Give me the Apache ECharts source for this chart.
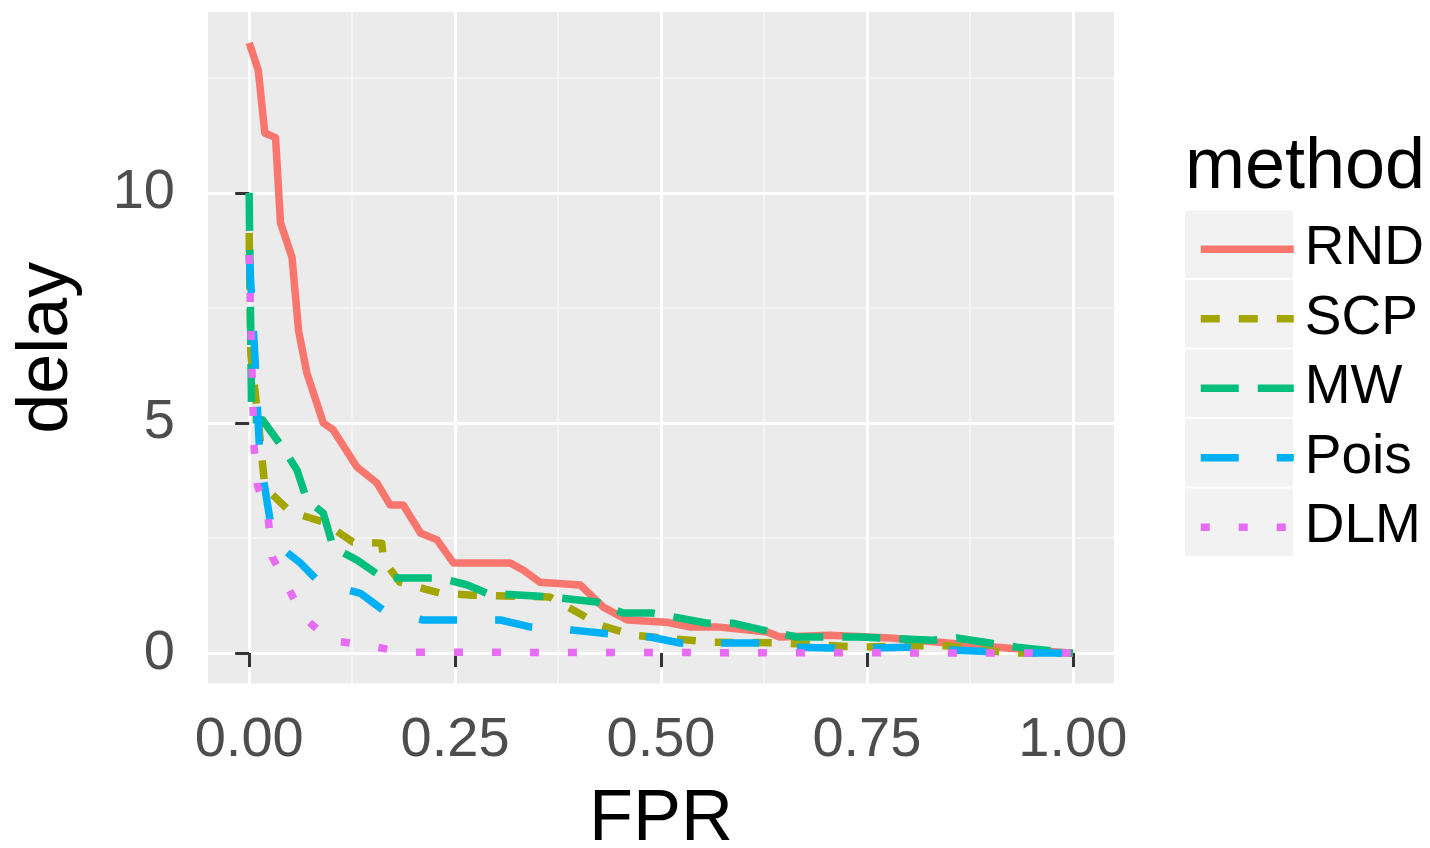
<!DOCTYPE html>
<html>
<head>
<meta charset="utf-8">
<script src="https://cdn.jsdelivr.net/npm/echarts@6/dist/echarts.min.js"></script>
<style>html,body{margin:0;padding:0;background:#fff}#c{width:1430px;height:848px}</style>
</head>
<body>
<div id="c"></div>
<script>
// ---- data ----
const methods = ['RND', 'SCP', 'MW', 'Pois', 'DLM'];
const xTicks = [0, 0.25, 0.5, 0.75, 1];
const xMinor = [0.125, 0.375, 0.625, 0.875];
const yTicks = [0, 5, 10];
const yMinor = [2.5, 7.5, 12.5];

const rndX = [0, 0.011, 0.019, 0.032, 0.038, 0.052, 0.06, 0.07, 0.09, 0.102, 0.131, 0.155, 0.171, 0.187, 0.208, 0.228, 0.248, 0.317, 0.333, 0.353, 0.402, 0.43, 0.459, 0.507, 0.535, 0.568, 0.629, 0.644, 0.705, 0.778, 0.908, 1.0];
const rndY = [13.26, 12.67, 11.3, 11.2, 9.35, 8.6, 7.0, 6.09, 5.0, 4.85, 4.04, 3.7, 3.22, 3.22, 2.61, 2.46, 1.96, 1.96, 1.8, 1.54, 1.48, 1.0, 0.72, 0.67, 0.57, 0.57, 0.46, 0.35, 0.39, 0.33, 0.13, 0];

const scpX = [0, 0.002, 0.011, 0.019, 0.05, 0.09, 0.126, 0.161, 0.163, 0.183, 0.232, 0.272, 0.365, 0.422, 0.426, 0.466, 0.559, 0.648, 0.738, 0.839, 0.927, 1.0];
const scpY = [9.13, 6.5, 5.07, 3.6, 3.07, 2.85, 2.41, 2.39, 2.02, 1.54, 1.3, 1.26, 1.22, 0.65, 0.61, 0.39, 0.24, 0.22, 0.13, 0.17, 0.0, 0];

const mwX = [0, 0.003, 0.016, 0.041, 0.058, 0.07, 0.09, 0.102, 0.131, 0.161, 0.183, 0.232, 0.265, 0.289, 0.365, 0.422, 0.454, 0.49, 0.556, 0.587, 0.624, 0.665, 0.697, 0.742, 0.83, 0.859, 0.899, 0.932, 1.0];
const mwY = [10.0, 5.07, 5.07, 4.46, 3.98, 3.33, 3.04, 2.3, 2.02, 1.65, 1.63, 1.63, 1.48, 1.3, 1.22, 1.11, 0.87, 0.87, 0.65, 0.65, 0.5, 0.35, 0.35, 0.35, 0.28, 0.33, 0.22, 0.13, 0];

const poisX = [0, 0.007, 0.013, 0.022, 0.028, 0.045, 0.062, 0.086, 0.135, 0.163, 0.211, 0.305, 0.341, 0.393, 0.43, 0.487, 0.523, 0.617, 0.665, 0.705, 0.757, 0.799, 0.851, 0.939, 1.0];
const poisY = [8.65, 6.43, 4.26, 3.26, 2.61, 2.2, 1.96, 1.52, 1.3, 0.93, 0.72, 0.72, 0.57, 0.5, 0.43, 0.35, 0.22, 0.22, 0.13, 0.11, 0.11, 0.13, 0.07, 0, 0];

const dlmX = [0, 0.003, 0.006, 0.01, 0.023, 0.028, 0.047, 0.066, 0.098, 0.143, 0.187, 1.0];
const dlmY = [8.65, 6.4, 4.45, 3.65, 2.93, 2.09, 1.43, 0.78, 0.28, 0.17, 0.02, 0];

const seriesX = [rndX, scpX, mwX, poisX, dlmX];
const seriesY = [rndY, scpY, mwY, poisY, dlmY];

// ---- styles ----
const colors = ['#F8766D', '#A3A500', '#00BF7D', '#00B0F6', '#E76BF3'];
const dashes = ['solid', [19, 19], [38, 19], [38, 38], [9, 29]];
const FONT = 'Liberation Sans, Arial, sans-serif';

const chart = echarts.init(document.getElementById('c'), null, {renderer: 'canvas'});

const series = methods.map((m, i) => ({
  name: m,
  type: 'line',
  xAxisIndex: 0,
  yAxisIndex: 0,
  symbol: 'none',
  showSymbol: false,
  data: seriesX[i].map((x, k) => [x, seriesY[i][k]]),
  lineStyle: {color: colors[i], width: 7.5, type: dashes[i], cap: 'butt', join: 'round'},
  itemStyle: {color: colors[i]},
  z: 3 + i
}));

const keyTop = 209.5, keyPitch = 69.5;
const keyRects = methods.map((m, i) => ({
  type: 'rect',
  shape: {x: 1185, y: keyTop + i * keyPitch + 1, width: 108, height: keyPitch - 2},
  style: {fill: '#F2F2F2'},
  z: -1
}));

const xMajor = {
  type: 'value', gridIndex: 0, min: -0.05, max: 1.05,
  axisLine: {show: false},
  axisTick: {show: true, customValues: xTicks, length: 14, lineStyle: {color: '#333333', width: 3}},
  axisLabel: {show: true, customValues: xTicks, formatter: v => v.toFixed(2), fontSize: 56, color: '#4D4D4D', margin: 29, fontFamily: FONT},
  splitLine: {show: true, lineStyle: {color: '#FFFFFF', width: 3}},
  name: 'FPR', nameLocation: 'middle', nameGap: 101,
  nameTextStyle: {fontSize: 72, color: '#000', fontFamily: FONT},
  z: 2
};
const xMinorAxis = {
  type: 'value', gridIndex: 0, min: -0.05, max: 1.05,
  axisLine: {show: false},
  axisTick: {show: false, customValues: xMinor},
  axisLabel: {show: false, customValues: xMinor},
  splitLine: {show: true, lineStyle: {color: '#F7F7F7', width: 1.5}},
  z: 1
};
const yMajor = {
  type: 'value', gridIndex: 0, min: -0.66, max: 13.93,
  axisLine: {show: false},
  axisTick: {show: true, customValues: yTicks, length: 14, lineStyle: {color: '#333333', width: 3}},
  axisLabel: {show: true, customValues: yTicks, fontSize: 56, color: '#4D4D4D', margin: 33, fontFamily: FONT},
  splitLine: {show: true, lineStyle: {color: '#FFFFFF', width: 3}},
  name: 'delay', nameLocation: 'middle', nameGap: 125, nameRotate: 90,
  nameTextStyle: {fontSize: 72, color: '#000', fontFamily: FONT},
  z: 2
};
const yMinorAxis = {
  type: 'value', gridIndex: 0, min: -0.66, max: 13.93,
  axisLine: {show: false},
  axisTick: {show: false, customValues: yMinor},
  axisLabel: {show: false, customValues: yMinor},
  splitLine: {show: true, lineStyle: {color: '#F7F7F7', width: 1.5}},
  z: 1
};

chart.setOption({
  animation: false,
  backgroundColor: '#FFFFFF',
  grid: {left: 208, right: 316, top: 12, bottom: 164.5, show: true, backgroundColor: '#EBEBEB', borderWidth: 0, outerBoundsMode: 'none', containLabel: false},
  xAxis: [xMajor, xMinorAxis],
  yAxis: [yMajor, yMinorAxis],
  title: {
    text: 'method', left: 1180, top: 127,
    textStyle: {fontSize: 72, fontWeight: 'normal', color: '#000', fontFamily: FONT}
  },
  legend: {
    orient: 'vertical', left: 1192, top: keyTop, itemWidth: 93, itemHeight: 14, itemGap: 0,
    data: methods,
    selectedMode: false,
    lineStyle: {width: 7.5},
    itemStyle: {opacity: 0},
    textStyle: {fontSize: 55, lineHeight: keyPitch, color: '#000', padding: [0, 0, 0, 6], fontFamily: FONT}
  },
  graphic: keyRects,
  series: series
});
</script>
</body>
</html>
